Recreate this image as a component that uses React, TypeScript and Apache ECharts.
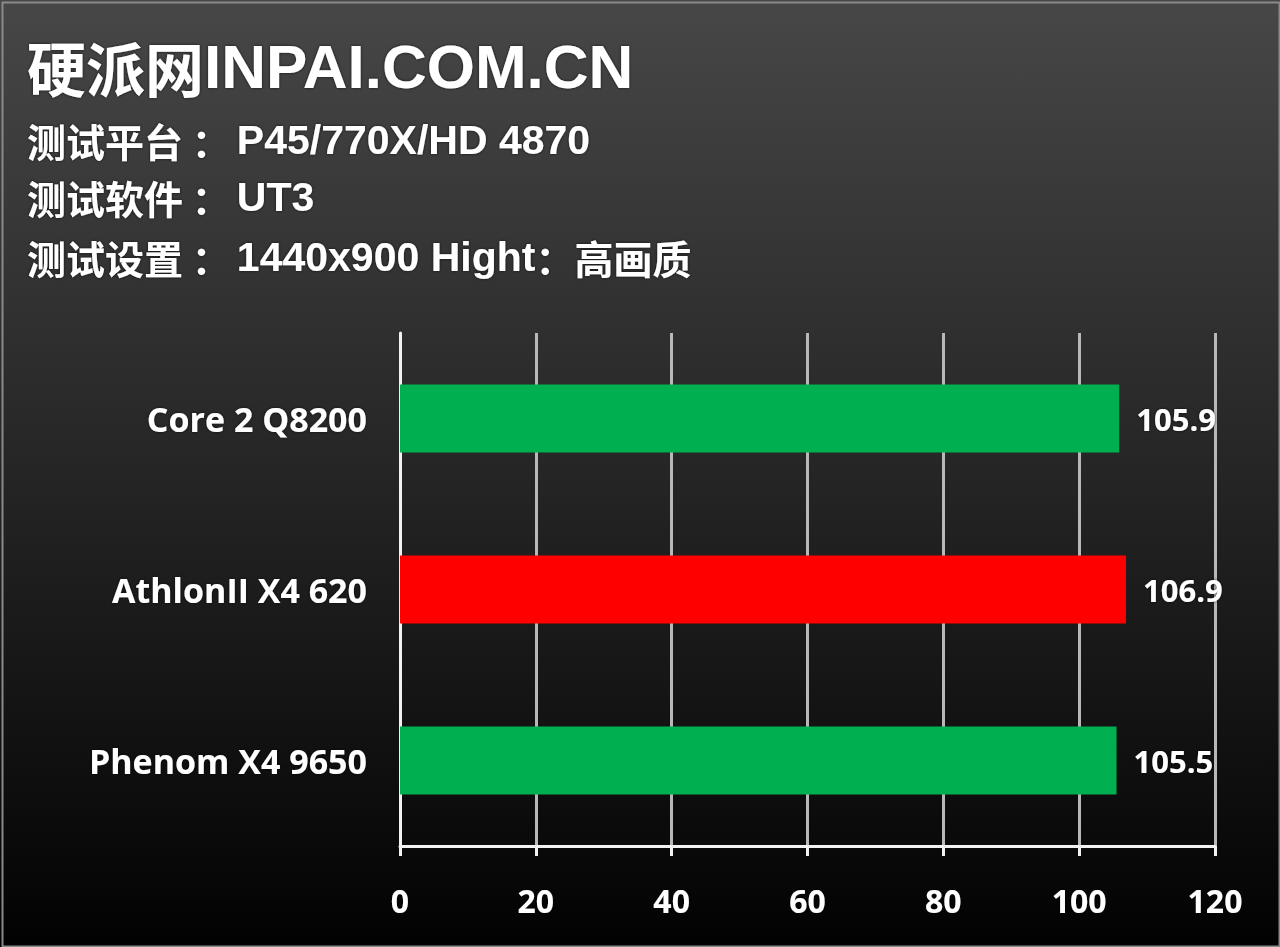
import React, { useEffect, useRef } from "react";
import * as echarts from "echarts";

const categories = ["Core 2 Q8200", "AthlonII X4 620", "Phenom X4 9650"];
const values = [105.9, 106.9, 105.5];
const barColors = ["#00B050", "#FF0000", "#00B050"];
const titleCjk = "硬派网";
const titleLatin = "INPAI.COM.CN";
const infoLabels = ["测试平台", "测试软件", "测试设置"];
const infoValues = ["P45/770X/HD 4870", "UT3", "1440x900 Hight"];
const infoSuffix = ["", "", "高画质"];
const xMin = 0;
const xMax = 120;
const xInterval = 20;

const latin = "'Liberation Sans', 'Noto Sans CJK SC', sans-serif";
const cjk = "'Noto Sans CJK SC', sans-serif";
const shadow = { textShadowColor: "rgba(0,0,0,0.7)", textShadowBlur: 3 };

export default function App() {
  const ref = useRef<HTMLDivElement>(null);
  useEffect(() => {
    if (!ref.current) return;
    const chart = echarts.init(ref.current, null, { renderer: "svg" });
    const infoY = [140, 197, 257];
    chart.setOption({
      animation: false,
      backgroundColor: {
        type: "linear",
        x: 0,
        y: 0,
        x2: 0,
        y2: 1,
        colorStops: [
          { offset: 0, color: "#474747" },
          { offset: 0.5, color: "#252525" },
          { offset: 1, color: "#020202" },
        ],
      },
      graphic: [
        {
          type: "rect",
          left: 0,
          top: 0,
          shape: { x: 1, y: 1, width: 1277, height: 944 },
          style: { fill: "none", stroke: "#8a8a8a", lineWidth: 2 },
          silent: true,
        },
        {
          type: "text",
          x: 27,
          y: 66,
          style: {
            text: `{c|${titleCjk}}{l|${titleLatin}}`,
            verticalAlign: "middle",
            fill: "#ffffff",
            rich: {
              c: { font: `bold 59px ${cjk}`, fill: "#ffffff", ...shadow },
              l: { font: `bold 62px ${latin}`, fill: "#ffffff", ...shadow },
            },
          },
        },
        ...infoLabels.map((t, i) => ({
          type: "text",
          x: 27,
          y: infoY[i],
          style: {
            text:
              `{c|${t} ：}{l|${infoValues[i]}}` +
              (infoSuffix[i] ? `{c|：${infoSuffix[i]}}` : ""),
            verticalAlign: "middle",
            fill: "#ffffff",
            rich: {
              c: { font: `bold 39px ${cjk}`, fill: "#ffffff", ...shadow },
              l: {
                font: `bold 41px ${latin}`,
                fill: "#ffffff",
                padding: [0, 0, 0, 6],
                ...shadow,
              },
            },
          },
        })),
      ],
      grid: { left: 400, right: 65, top: 333, bottom: 101, containLabel: false },
      xAxis: {
        type: "value",
        min: xMin,
        max: xMax,
        interval: xInterval,
        axisLine: { show: true, lineStyle: { color: "#f2f2f2", width: 3 } },
        axisTick: { show: true, length: 10, lineStyle: { color: "#f2f2f2", width: 3 } },
        splitLine: { show: true, lineStyle: { color: "#b8b8b8", width: 3 } },
        axisLabel: {
          color: "#ffffff",
          fontSize: 32,
          fontWeight: "bold",
          fontFamily: "'Open Sans', sans-serif",
          margin: 38,
          ...shadow,
        },
      },
      yAxis: {
        type: "category",
        data: categories,
        inverse: true,
        axisLine: { show: true, lineStyle: { color: "#f2f2f2", width: 3 } },
        axisTick: { show: false },
        axisLabel: {
          color: "#ffffff",
          fontSize: 34,
          fontWeight: "bold",
          fontFamily: "'Open Sans', sans-serif",
          margin: 33,
          ...shadow,
        },
      },
      series: [
        {
          type: "bar",
          barWidth: 68,
          data: values.map((v, i) => ({ value: v, itemStyle: { color: barColors[i] } })),
          label: {
            show: true,
            position: "right",
            distance: 17,
            color: "#ffffff",
            fontSize: 31,
            fontWeight: "bold",
            fontFamily: "'Open Sans', sans-serif",
            ...shadow,
          },
        },
      ],
    });
    return () => chart.dispose();
  }, []);
  return (
    <div
      ref={ref}
      style={{ position: "fixed", left: 0, top: 0, width: 1280, height: 947 }}
    />
  );
}
